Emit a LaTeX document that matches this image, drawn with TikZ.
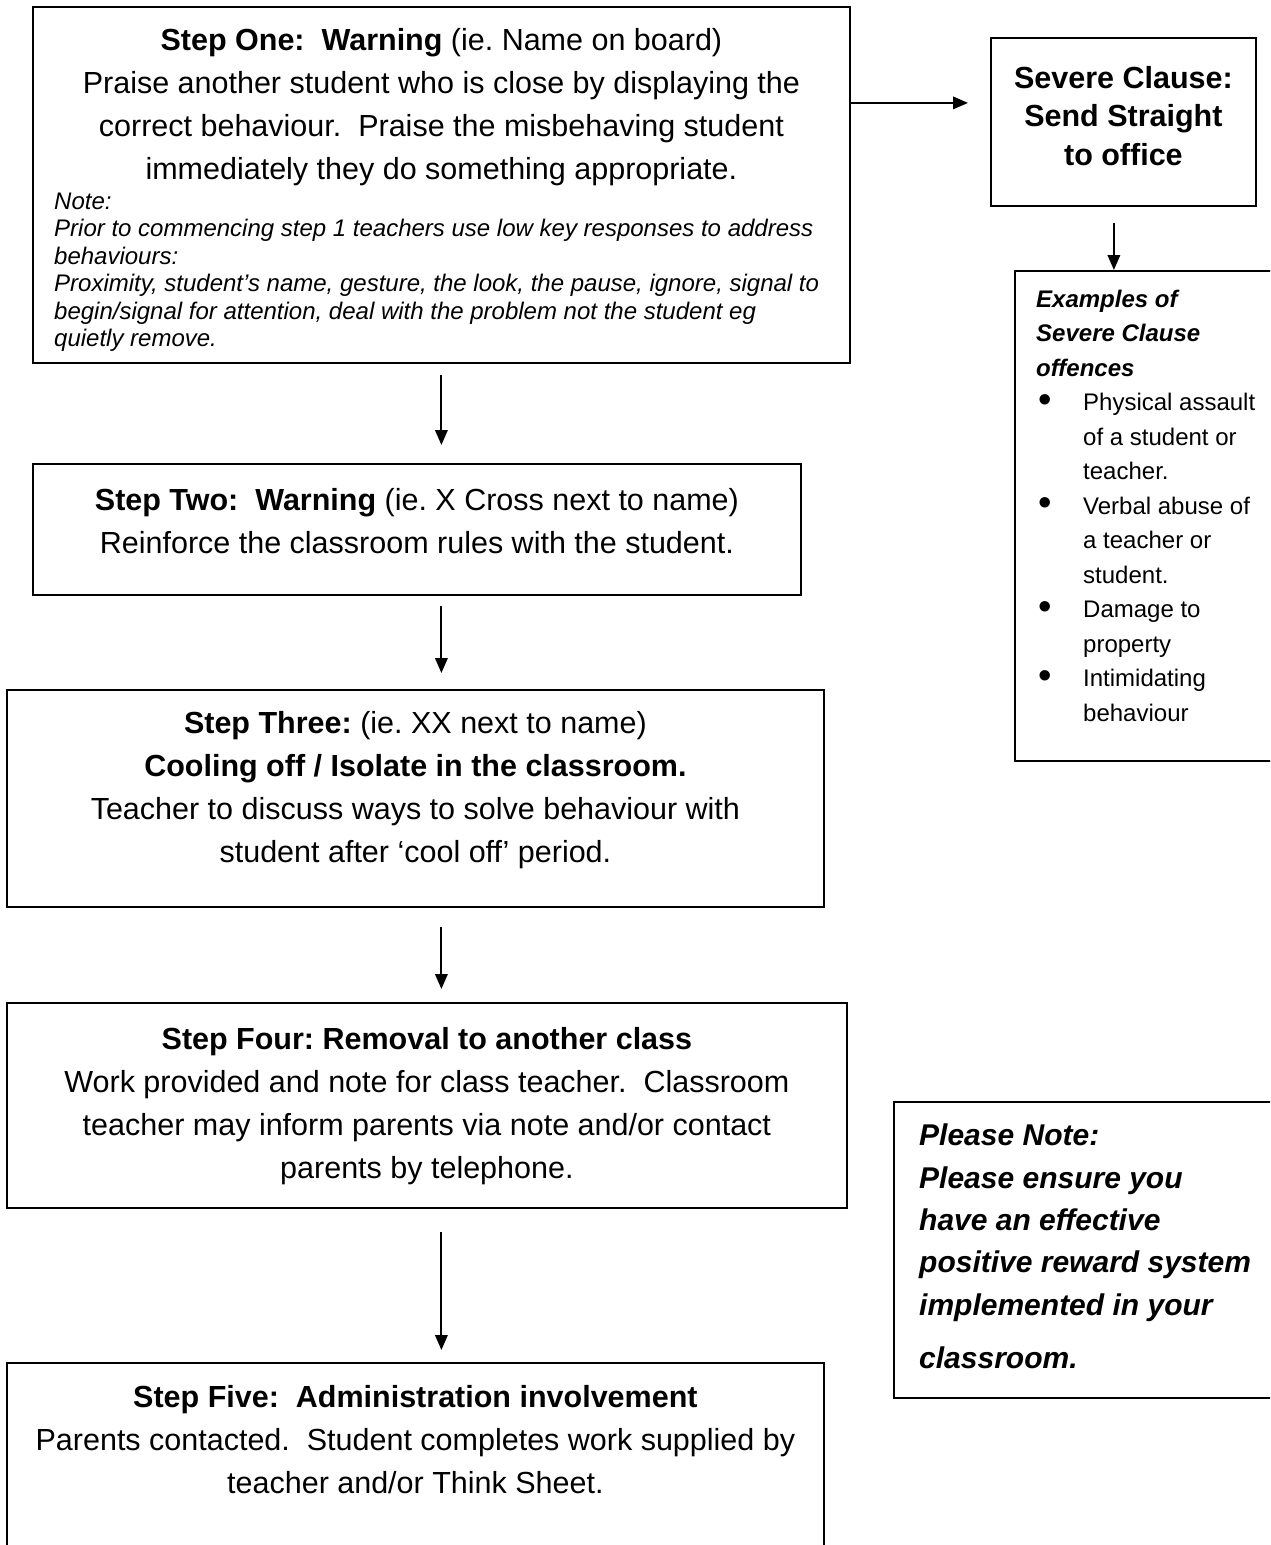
\documentclass[tikz,border=0pt]{standalone}
\usepackage{fontspec}
\setmainfont{Liberation Sans}
\usetikzlibrary{arrows.meta, positioning}
\frenchspacing

\newcommand\exbul{\makebox[47pt][l]{\hspace{2pt}\raisebox{-1.6pt}{\scalebox{1.6}{\textbullet}}}}
\newcommand\exind{\hspace*{47pt}}

\begin{document}
\begin{tikzpicture}[x=1pt, y=-1pt,
  frame/.style={draw, line width=1.8pt, rectangle, anchor=north west, inner sep=0pt},
  steptext/.style={anchor=north, inner sep=0pt, align=center, font=\fontsize{30.5}{43}\selectfont},
  sidetext/.style={anchor=north west, inner sep=0pt, align=left},
  arr/.style={line width=2pt, -{Triangle[length=15pt, width=12.5pt]}}
]
\useasboundingbox (0,0) rectangle (1270,1545);
\clip (0,0) rectangle (1270,1545);

% Frames
\node[frame, minimum width=817pt, minimum height=356pt] (one) at (32,6) {};
\node[frame, minimum width=768pt, minimum height=131pt] (two) at (32,463) {};
\node[frame, minimum width=817pt, minimum height=217pt] (three) at (6,689) {};
\node[frame, minimum width=840pt, minimum height=205pt] (four) at (6,1002) {};
\node[frame, minimum width=817pt, minimum height=208pt] (five) at (6,1362) {};
\node[frame, minimum width=265pt, minimum height=168pt] (severe) at (990,37) {};
\node[frame, minimum width=276pt, minimum height=490pt] (examples) at (1014,270) {};
\node[frame, minimum width=397pt, minimum height=296pt] (please) at (893,1101) {};

% Step one
\node[steptext, below=21.7pt of one.north] (onetxt)
  {\textbf{Step One:~ Warning} (ie. Name on board)\\
   Praise another student who is close by displaying the\\
   correct behaviour.~ Praise the misbehaving student\\
   immediately they do something appropriate.};
\node[sidetext, font=\itshape\fontsize{24}{27.4}\selectfont] (onenote)
  at ([xshift=22pt, yshift=-186.8pt]one.north west)
  {Note:\\
   Prior to commencing step 1 teachers use low key responses to address\\
   behaviours:\\
   Proximity, student’s name, gesture, the look, the pause, ignore, signal to\\
   begin/signal for attention, deal with the problem not the student eg\\
   quietly remove.};

% Step two
\node[steptext, below=24.7pt of two.north] (twotxt)
  {\textbf{Step Two:~ Warning} (ie. X Cross next to name)\\
   Reinforce the classroom rules with the student.};

% Step three
\node[steptext, below=21.7pt of three.north] (threetxt)
  {\textbf{Step Three:} (ie. XX next to name)\\
   \textbf{Cooling off / Isolate in the classroom.}\\
   Teacher to discuss ways to solve behaviour with\\
   student after ‘cool off’ period.};

% Step four
\node[steptext, below=24.7pt of four.north] (fourtxt)
  {\textbf{Step Four: Removal to another class}\\
   Work provided and note for class teacher.~ Classroom\\
   teacher may inform parents via note and/or contact\\
   parents by telephone.};

% Step five
\node[steptext, below=22.7pt of five.north] (fivetxt)
  {\textbf{Step Five:~ Administration involvement}\\
   Parents contacted.~ Student completes work supplied by\\
   teacher and/or Think Sheet.};

% Severe clause
\node[steptext, font=\bfseries\fontsize{30.5}{38.5}\selectfont, below=28.7pt of severe.north] (severetxt)
  {Severe Clause:\\ Send Straight\\ to office};

\node[sidetext, font=\fontsize{24}{34.5}\selectfont] (examplestxt)
  at ([xshift=22pt, yshift=-19.5pt]examples.north west)
  {\textbf{\textit{Examples of}}\\
   \textbf{\textit{Severe Clause}}\\
   \textbf{\textit{offences}}\\
   \exbul Physical assault\\
   \exind of a student or\\
   \exind teacher.\\
   \exbul Verbal abuse of\\
   \exind a teacher or\\
   \exind student.\\
   \exbul Damage to\\
   \exind property\\
   \exbul Intimidating\\
   \exind behaviour};

% Please note
\node[sidetext, font=\bfseries\itshape\fontsize{30}{42.3}\selectfont] (pleasetxt)
  at ([xshift=26pt, yshift=-23pt]please.north west)
  {Please Note:\\
   Please ensure you\\
   have an effective\\
   positive reward system\\
   implemented in your\\[11pt]
   classroom.};

% Arrows
\coordinate (sevin) at ([yshift=19pt]severe.west);
\coordinate (sevout) at ([xshift=-9.5pt]severe.south);
\draw[arr, shorten >=22pt] (sevin -| one.east) -- (sevin);
\draw[arr, shorten <=16pt] (sevout) -- (sevout |- examples.north);
\draw[arr, shorten <=11pt, shorten >=18pt] (one.south) -- (one.south |- two.north);
\draw[arr, shorten <=10pt, shorten >=16pt] (one.south |- two.south) -- (one.south |- three.north);
\draw[arr, shorten <=19pt, shorten >=13pt] (one.south |- three.south) -- (one.south |- four.north);
\draw[arr, shorten <=23pt, shorten >=12pt] (one.south |- four.south) -- (one.south |- five.north);

\end{tikzpicture}
\end{document}
